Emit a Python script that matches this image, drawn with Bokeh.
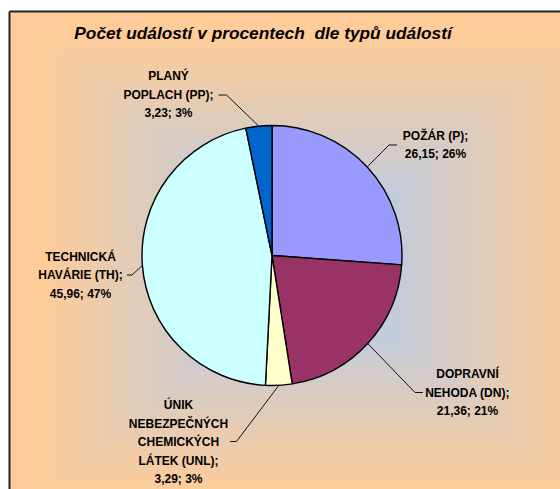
import numpy as np
from bokeh.plotting import figure
from bokeh.models import Range1d
from bokeh.core.properties import value
from bokeh.embed import file_html
from bokeh.resources import INLINE

# ---- data ----
categories = ["POŽÁR (P)", "DOPRAVNÍ NEHODA (DN)", "ÚNIK NEBEZPEČNÝCH CHEMICKÝCH LÁTEK (UNL)",
              "TECHNICKÁ HAVÁRIE (TH)", "PLANÝ POPLACH (PP)"]
values = [26.15, 21.36, 3.29, 45.96, 3.23]
colors = ["#9999FF", "#993366", "#FFFFCC", "#CCFFFF", "#0066CC"]
label_lines = [
    ["POŽÁR (P);", "26,15; 26%"],
    ["DOPRAVNÍ", "NEHODA (DN);", "21,36; 21%"],
    ["ÚNIK", "NEBEZPEČNÝCH", "CHEMICKÝCH", "LÁTEK (UNL);", "3,29; 3%"],
    ["TECHNICKÁ", "HAVÁRIE (TH);", "45,96; 47%"],
    ["PLANÝ", "POPLACH (PP);", "3,23; 3%"],
]
title = "Počet událostí v procentech\u00a0 dle typů událostí"

W, H = 560, 489
FONT = "Liberation Sans"

p = figure(width=W, height=H, output_backend="svg", toolbar_location=None,
           x_range=Range1d(0, W), y_range=Range1d(0, H), min_border=0,
           background_fill_color="white", border_fill_color="white")
p.axis.visible = False
p.grid.visible = False
p.outline_line_color = None

def px(X):  # page x -> data x
    return X
def py(Y):  # page y -> data y
    return H - Y

# ---- background gradient (chart area) ----
x0, x1 = px(9), W
y0, y1 = 0, py(11)
gw, gh = int(x1 - x0), int(y1 - y0)
xs = np.arange(gw) + x0 + 0.5              # page X
ys = H - (np.arange(gh) + y0 + 0.5)        # page Y (row 0 = bottom)
XX, YY = np.meshgrid(xs, ys)
cx, cy, hw, hh = 310.0, 265.0, 300.0, 255.0
t = np.maximum(np.abs(XX - cx) / hw, np.abs(YY - cy) / hh)
t = np.clip((t - 0.15) / 0.75, 0, 1) ** 0.85
c_in = np.array([0xB2, 0xCC, 0xF0], dtype=float)
c_out = np.array([0xFF, 0xCC, 0x99], dtype=float)
rgb = c_in[None, None, :] + (c_out - c_in)[None, None, :] * t[..., None]
img = np.empty((gh, gw), dtype=np.uint32)
view = img.view(dtype=np.uint8).reshape((gh, gw, 4))
view[..., 0] = rgb[..., 0].astype(np.uint8)
view[..., 1] = rgb[..., 1].astype(np.uint8)
view[..., 2] = rgb[..., 2].astype(np.uint8)
view[..., 3] = 255
p.image_rgba(image=[img], x=x0, y=y0, dw=gw, dh=gh)

# chart area border
p.line([x0, x0], [-5, y1], line_color="#222222", line_width=2)
p.line([x0, W + 5], [y1, y1], line_color="#222222", line_width=2)

# ---- pie ----
pcx, pcy, R = px(271.5), py(255), 130
total = sum(values)
starts, ends, mids = [], [], []
a = np.pi / 2
for v in values:
    span = 2 * np.pi * v / total
    starts.append(a)
    ends.append(a - span)
    mids.append(a - span / 2)
    a -= span
p.wedge(x=pcx, y=pcy, radius=R, start_angle=starts, end_angle=ends, direction="clock",
        fill_color=colors, line_color="black", line_width=1.4)

# ---- labels with leader lines ----
# (label center page-x, first-line page-y, elbow page point, horizontal end page point)
layout = [
    (435, 135, (388.5, 144.5), (396.5, 144.5)),
    (467, 373.5, (414.5, 392), (422.5, 392)),
    (178, 404.5, (236, 441), (229.5, 441)),
    (80, 256, (131.5, 274.5), (126.5, 274.5)),
    (168, 75.5, (226, 94.5), (218, 94.5)),
]
line_h = 18.6
for lines, (lx, ly, elbow, hend), m in zip(label_lines, layout, mids):
    ex = pcx + R * np.cos(m)
    ey = pcy + R * np.sin(m)
    p.line([ex, px(elbow[0]), px(hend[0])], [ey, py(elbow[1]), py(hend[1])],
           line_color="#111111", line_width=1)
    p.text(x=[px(lx)] * len(lines), y=[py(ly + i * line_h) for i in range(len(lines))],
           text=lines, text_align="center", text_baseline="middle",
           text_font=value(FONT), text_font_style="bold", text_font_size="12px",
           text_color="black")

# ---- title ----
p.text(x=[px(262.5)], y=[py(32)], text=[title], text_align="center", text_baseline="middle",
       text_font=value(FONT), text_font_style="bold italic", text_font_size="17.3px",
       text_color="black")

open("out.html", "w").write(file_html(p, INLINE))
